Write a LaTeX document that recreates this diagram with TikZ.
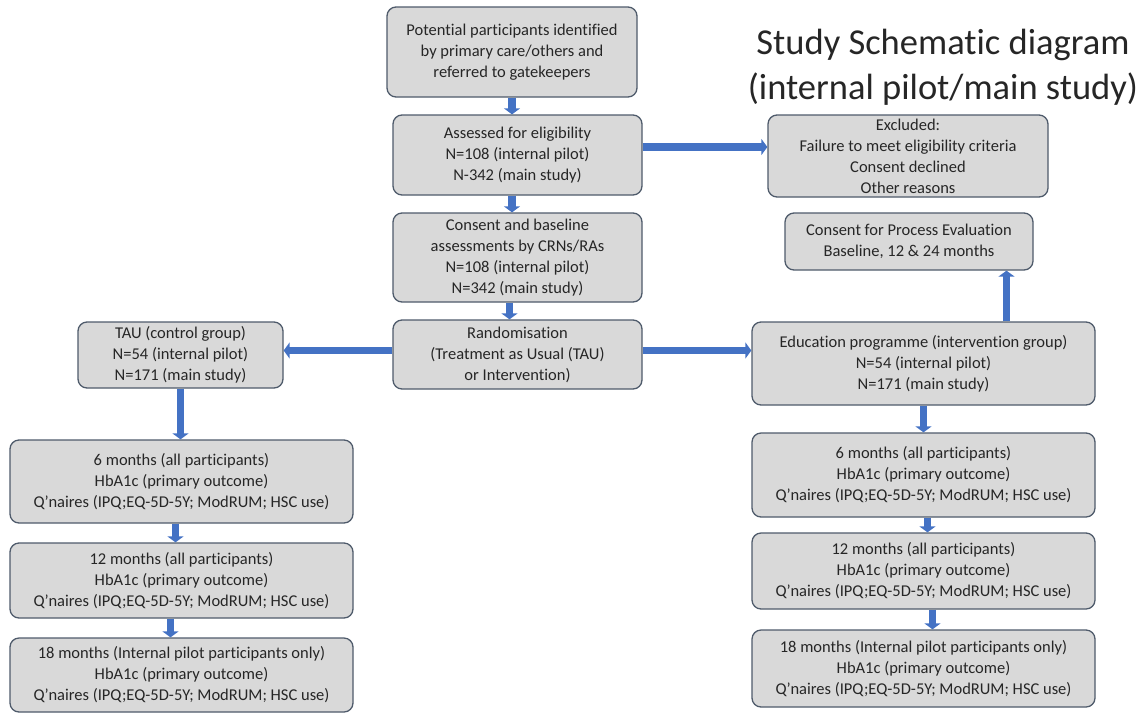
\documentclass[tikz,border=0pt]{standalone}
\usepackage{fontspec}
\setmainfont{Carlito}[Ligatures=NoCommon]
\usetikzlibrary{arrows.meta}
\definecolor{boxfill}{HTML}{D9D9D9}
\definecolor{boxline}{HTML}{4F5B6B}
\definecolor{flowblue}{HTML}{4472C4}
\definecolor{inktext}{HTML}{262626}
\begin{document}
\begin{tikzpicture}[x=1pt,y=-1pt,
    box/.style={draw=boxline, fill=boxfill, line width=1.3pt, rounded corners=9pt,
      align=center, inner sep=0pt, text=inktext,
      font=\fontsize{16.5}{21}\selectfont},
    flow/.style={draw=flowblue, line width=7.5pt,
      -{Triangle[width=16pt,length=6pt]}}]
    \useasboundingbox (0,0) rectangle (1148,713);
    \node[text=inktext, align=center, font=\fontsize{36.5}{45}\selectfont] (title) at (943,67)
      {Study Schematic diagram\\(internal pilot/main study)};
    \node[box, minimum width=250, minimum height=90] (potential) at (512,52)
      {Potential participants identified\\by primary care/others and\\referred to gatekeepers};
    \node[box, minimum width=249, minimum height=80] (assess) at (517.5,155)
      {Assessed for eligibility\\N=108 (internal pilot)\\N-342 (main study)};
    \node[box, minimum width=249, minimum height=89] (consent) at (517.5,257.5)
      {Consent and baseline\\assessments by CRNs/RAs\\N=108 (internal pilot)\\N=342 (main study)};
    \node[box, minimum width=249, minimum height=69] (random) at (517.5,354.5)
      {Randomisation\\(Treatment as Usual (TAU)\\or Intervention)};
    \node[box, minimum width=280, minimum height=82] (excluded) at (908,156)
      {Excluded:\\Failure to meet eligibility criteria\\Consent declined\\Other reasons};
    \node[box, minimum width=248, minimum height=57] (process) at (909,241.5)
      {Consent for Process Evaluation\\Baseline, 12 \& 24 months};
    \node[box, minimum width=343, minimum height=83] (educ) at (923.5,363.5)
      {Education programme (intervention group)\\N=54 (internal pilot)\\N=171 (main study)};
    \node[box, minimum width=205, minimum height=66] (tau) at (180.5,355)
      {TAU (control group)\\N=54 (internal pilot)\\N=171 (main study)};
    \node[box, minimum width=343, minimum height=83] (ctrlsix) at (181.5,481.5)
      {6 months (all participants)\\HbA1c (primary outcome)\\Q’naires (IPQ;EQ-5D-5Y; ModRUM; HSC use)};
    \node[box, minimum width=343, minimum height=75] (ctrltwelve) at (181.5,580.5)
      {12 months (all participants)\\HbA1c (primary outcome)\\Q’naires (IPQ;EQ-5D-5Y; ModRUM; HSC use)};
    \node[box, minimum width=343, minimum height=74] (ctrleighteen) at (181.5,675)
      {18 months (Internal pilot participants only)\\HbA1c (primary outcome)\\Q’naires (IPQ;EQ-5D-5Y; ModRUM; HSC use)};
    \node[box, minimum width=343, minimum height=84] (intsix) at (923.5,475)
      {6 months (all participants)\\HbA1c (primary outcome)\\Q’naires (IPQ;EQ-5D-5Y; ModRUM; HSC use)};
    \node[box, minimum width=343, minimum height=76] (inttwelve) at (923.5,571)
      {12 months (all participants)\\HbA1c (primary outcome)\\Q’naires (IPQ;EQ-5D-5Y; ModRUM; HSC use)};
    \node[box, minimum width=343, minimum height=77] (inteighteen) at (923.5,668.5)
      {18 months (Internal pilot participants only)\\HbA1c (primary outcome)\\Q’naires (IPQ;EQ-5D-5Y; ModRUM; HSC use)};

    \draw[flow] (potential.south) -- (potential.south |- assess.north);
    \draw[flow] (assess.south -| potential) -- (consent.north -| potential);
    \draw[flow] ([xshift=-8]consent.south) -- ([xshift=-8]random.north);
    \draw[flow] ([yshift=8]assess.east) -- ([yshift=8]assess.east -| excluded.west);
    \draw[flow] ([yshift=4]random.west) -- ([yshift=4]random.west -| tau.east);
    \draw[flow] ([yshift=4]random.east) -- ([yshift=4]random.east -| educ.west);
    \draw[flow] (tau.south) -- (tau.south |- ctrlsix.north);
    \draw[flow] ([xshift=-6]ctrlsix.south) -- ([xshift=-6]ctrlsix.south |- ctrltwelve.north);
    \draw[flow] ([xshift=-11]ctrltwelve.south) -- ([xshift=-11]ctrltwelve.south |- ctrleighteen.north);
    \draw[flow] ([xshift=83]educ.north) -- ([xshift=83]educ.north |- process.south);
    \draw[flow] (educ.south) -- (educ.south |- intsix.north);
    \draw[flow] ([xshift=4]intsix.south) -- ([xshift=4]intsix.south |- inttwelve.north);
    \draw[flow] ([xshift=9]inttwelve.south) -- ([xshift=9]inttwelve.south |- inteighteen.north);
\end{tikzpicture}
\end{document}
